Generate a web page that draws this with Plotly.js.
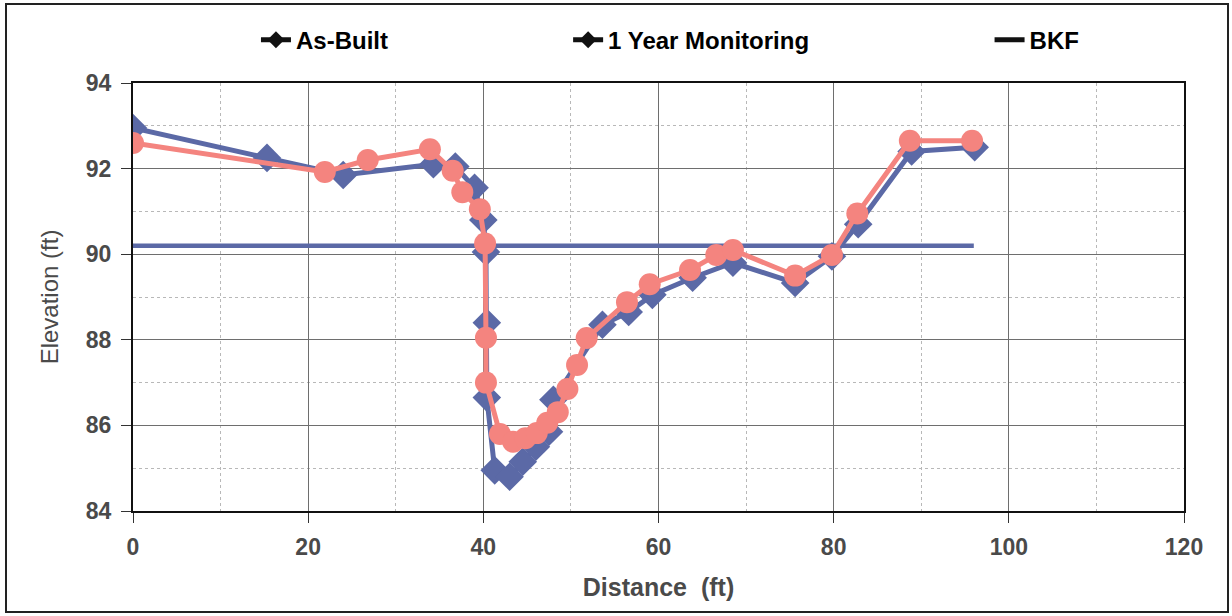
<!DOCTYPE html>
<html>
<head>
<meta charset="utf-8">
<script src="https://cdn.plot.ly/plotly-3.0.1.min.js"></script>
<style>
  html, body { margin: 0; padding: 0; background: #fff; }
  #wrap { position: relative; width: 1232px; height: 616px; }
  #chart { width: 1232px; height: 616px; }
  #frame { position: absolute; left: 5px; top: 3px; width: 1220px; height: 606px; border: 2px solid #222; pointer-events: none; }
</style>
</head>
<body>
<div id="wrap"><div id="chart"></div><div id="frame"></div></div>
<script>
// As-Built survey
const asBuiltX = [0, 15.3, 24.0, 34.3, 36.8, 39.0, 40.0, 40.3, 40.4, 40.4, 41.3, 43.0, 44.5, 46.0, 47.5, 48.0, 53.6, 56.6, 59.3, 63.9, 68.5, 75.6, 79.8, 82.8, 88.9, 96.1];
const asBuiltY = [92.95, 92.25, 91.85, 92.1, 92.05, 91.55, 90.8, 90.05, 88.4, 86.65, 84.95, 84.8, 85.15, 85.5, 85.85, 86.6, 88.35, 88.65, 89.05, 89.45, 89.8, 89.33, 89.95, 90.7, 92.4, 92.5];

// 1 Year Monitoring survey
const monX = [0, 21.9, 26.8, 33.9, 36.5, 37.6, 39.6, 40.2, 40.3, 40.3, 41.9, 43.4, 44.8, 46.1, 47.3, 48.5, 49.6, 50.7, 51.8, 56.4, 59.0, 63.6, 66.6, 68.5, 75.6, 79.8, 82.7, 88.7, 95.8];
const monY = [92.6, 91.92, 92.2, 92.45, 91.95, 91.45, 91.05, 90.25, 88.05, 87.0, 85.8, 85.62, 85.7, 85.82, 86.06, 86.31, 86.85, 87.41, 88.04, 88.88, 89.3, 89.63, 89.98, 90.1, 89.5, 89.98, 90.95, 92.65, 92.65];

// Bankfull elevation
const bkfX = [0, 96];
const bkfY = [90.2, 90.2];

const seriesNames = ["As-Built", "1 Year Monitoring", "BKF"];

const xTicks = [0, 20, 40, 60, 80, 100, 120];
const yTicks = [84, 86, 88, 90, 92, 94];

const blue = "#5b69a6";
const pink = "#f4847f";
const FONT = "Liberation Sans, Arial, sans-serif";

const traces = [
  { x: bkfX, y: bkfY, mode: "lines", line: { color: blue, width: 4.5 }, showlegend: false, hoverinfo: "skip" },
  { x: asBuiltX, y: asBuiltY, mode: "lines+markers", line: { color: blue, width: 5 },
    marker: { symbol: "diamond", size: 22, color: blue }, showlegend: false },
  { x: monX, y: monY, mode: "lines+markers", line: { color: pink, width: 5 },
    marker: { symbol: "circle", size: 22, color: pink }, showlegend: false },
  // legend entries (legend icons in the reference are black)
  { x: [null], y: [null], name: seriesNames[0], mode: "lines+markers", line: { color: "#111", width: 5 },
    marker: { symbol: "diamond", size: 13, color: "#111" }, legend: "legend" },
  { x: [null], y: [null], name: seriesNames[1], mode: "lines+markers", line: { color: "#111", width: 5 },
    marker: { symbol: "diamond", size: 13, color: "#111" }, legend: "legend2" },
  { x: [null], y: [null], name: seriesNames[2], mode: "lines", line: { color: "#111", width: 5 }, legend: "legend3" }
];

const legFont = { family: FONT, size: 24, color: "#000", weight: "bold" };
const legBase = { orientation: "h", yanchor: "middle", xanchor: "left", y: 1.1, font: legFont, bgcolor: "rgba(0,0,0,0)", itemwidth: 30 };

const layout = {
  width: 1232, height: 616,
  margin: { l: 133, r: 48, t: 83, b: 105 },
  paper_bgcolor: "#fff", plot_bgcolor: "#fff",
  showlegend: true,
  legend: Object.assign({}, legBase, { x: 0.117 }),
  legend2: Object.assign({}, legBase, { x: 0.414 }),
  legend3: Object.assign({}, legBase, { x: 0.815 }),
  xaxis: {
    range: [0, 120], tickvals: xTicks, ticktext: xTicks.map(String),
    showgrid: true, gridcolor: "#6e6e6e", gridwidth: 1,
    minor: { dtick: 10, showgrid: true, gridcolor: "#b8b8b8", griddash: "dot", gridwidth: 1 },
    showline: true, linecolor: "#111", linewidth: 2, mirror: true,
    ticks: "outside", ticklen: 10, tickcolor: "#333", zeroline: false, ticklabelstandoff: 4,
    tickfont: { family: FONT, size: 23, color: "#4a4a4a", weight: "bold" },
    title: { text: "Distance  (ft)", font: { family: FONT, size: 25, color: "#4a4a4a", weight: "bold" }, standoff: 20 }
  },
  yaxis: {
    range: [84, 94], tickvals: yTicks, ticktext: yTicks.map(String),
    showgrid: true, gridcolor: "#6e6e6e", gridwidth: 1,
    minor: { dtick: 1, showgrid: true, gridcolor: "#b8b8b8", griddash: "dot", gridwidth: 1 },
    showline: true, linecolor: "#111", linewidth: 2, mirror: true,
    ticks: "outside", ticklen: 10, tickcolor: "#333", zeroline: false, ticklabelstandoff: 5,
    tickfont: { family: FONT, size: 23, color: "#4a4a4a", weight: "bold" },
    title: { text: "Elevation (ft)", font: { family: FONT, size: 24, color: "#4a4a4a" }, standoff: 20 }
  }
};

Plotly.newPlot("chart", traces, layout, { displayModeBar: false, staticPlot: true });
</script>
</body>
</html>
